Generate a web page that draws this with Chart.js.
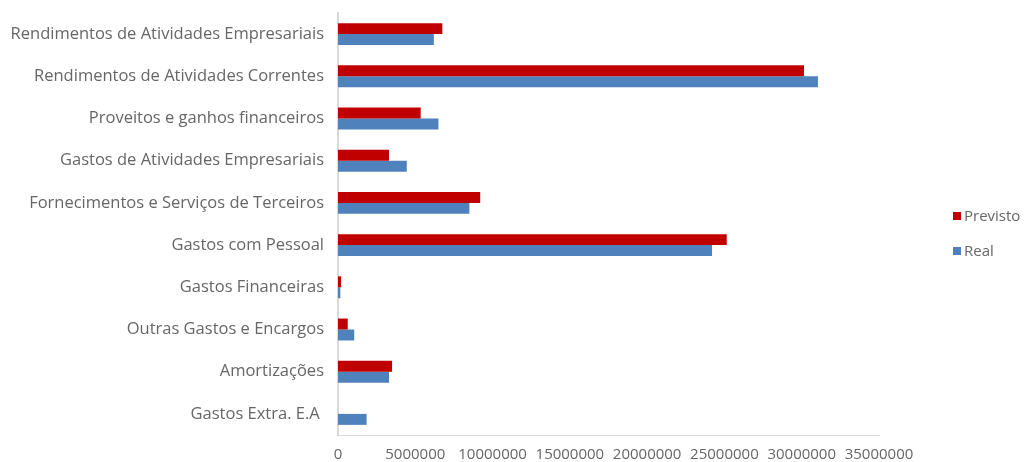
<!DOCTYPE html>
<html>
<head>
<meta charset="utf-8">
<script src="https://cdn.jsdelivr.net/npm/chart.js@4/dist/chart.umd.min.js"></script>
<style>
  html, body { margin: 0; padding: 0; background: #fff; }
  #wrap { position: relative; width: 1024px; height: 462px; }
  .legend { position: absolute; left: 953px; font-family: "Open Sans", sans-serif; font-size: 15px; color: #666; line-height: 16px; }
  .legend span { display: inline-block; width: 8px; height: 8px; margin-right: 3px; vertical-align: 1px; }
</style>
</head>
<body>
<div id="wrap">
  <canvas id="myChart" width="1024" height="462"></canvas>
  <div class="legend" style="top: 207px"><span style="background:#c00000"></span>Previsto</div>
  <div class="legend" style="top: 242px"><span style="background:#4f81bd"></span>Real</div>
</div>
<script>
// categories, top to bottom
const categories = [
  "Rendimentos de Atividades Empresariais",
  "Rendimentos de Atividades Correntes",
  "Proveitos e ganhos financeiros",
  "Gastos de Atividades Empresariais",
  "Fornecimentos e Serviços de Terceiros",
  "Gastos com Pessoal",
  "Gastos Financeiras",
  "Outras Gastos e Encargos",
  "Amortizações",
  "Gastos Extra. E.A "
];

// values (approx.)
const previsto = [6750000, 30150000, 5350000, 3300000, 9200000, 25150000, 200000, 630000, 3500000, 0];
const real = [6200000, 31050000, 6500000, 4450000, 8500000, 24200000, 150000, 1050000, 3300000, 1850000];

const xTicks = [0, 5000000, 10000000, 15000000, 20000000, 25000000, 30000000, 35000000];

const fontFamily = "'Open Sans', sans-serif";
const gray = "#666666";

const data = {
  labels: categories,
  datasets: [
    {
      label: "Previsto",
      data: previsto,
      backgroundColor: "#c00000",
      borderWidth: 0,
    },
    {
      label: "Real",
      data: real,
      backgroundColor: "#4f81bd",
      borderWidth: 0,
    },
  ],
};

const config = {
  type: "bar",
  data,
  options: {
    indexAxis: "y",
    responsive: false,
    animation: false,
    categoryPercentage: 0.52,
    barPercentage: 1.0,
    layout: { padding: { top: 13, left: 0, right: 145, bottom: 0 } },
    plugins: {
      tooltip: { enabled: false },
      legend: { display: false },
    },
    scales: {
      x: {
        min: 0,
        max: 35000000,
        afterBuildTicks: (axis) => {
          axis.ticks = xTicks.map((v) => ({ value: v }));
        },
        afterFit: (scale) => {
          scale.height = 27;
        },
        grid: { display: false, drawTicks: false },
        border: { display: true, color: "#d9d9d9", width: 1 },
        ticks: {
          autoSkip: false,
          maxRotation: 0,
          padding: 11,
          color: gray,
          font: { family: fontFamily, size: 15 },
          callback: (v) => String(v),
        },
      },
      y: {
        afterFit: (scale) => {
          scale.width = 338;
          scale.paddingTop = 0;
          scale.paddingBottom = 0;
        },
        grid: { display: false, drawTicks: false },
        border: { display: true, color: "#d9d9d9", width: 2 },
        ticks: {
          padding: 14,
          color: gray,
          font: { family: fontFamily, size: 16.5 },
        },
      },
    },
  },
};

let myChart = new Chart(document.getElementById("myChart"), config);
</script>
</body>
</html>
